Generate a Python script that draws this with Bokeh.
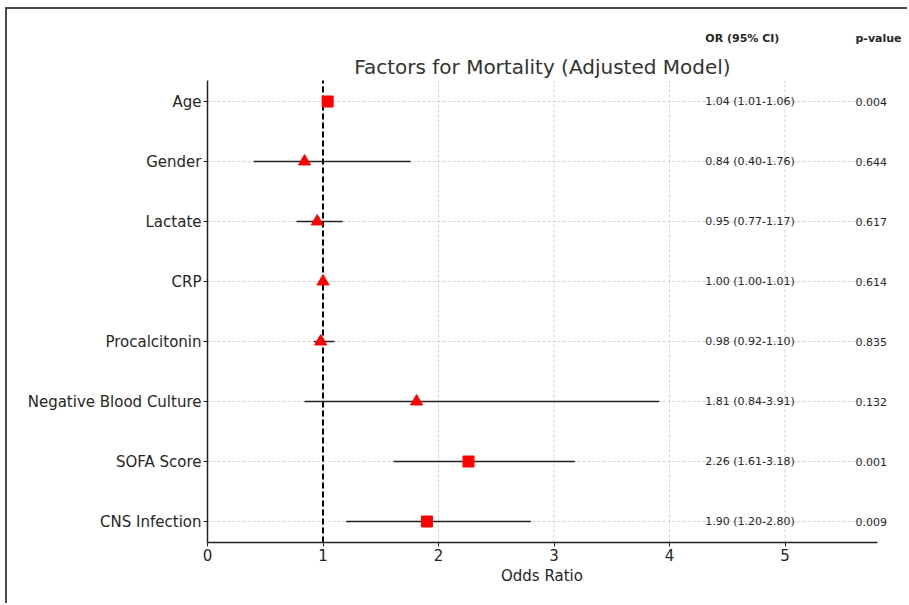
from bokeh.plotting import figure
from bokeh.layouts import column
from bokeh.models import ColumnDataSource, FixedTicker, Title
from bokeh.core.properties import value
from bokeh.embed import file_html
from bokeh.resources import INLINE

# ---- data ----
factors = ["Age", "Gender", "Lactate", "CRP", "Procalcitonin",
           "Negative Blood Culture", "SOFA Score", "CNS Infection"]
odds = [1.04, 0.84, 0.95, 1.00, 0.98, 1.81, 2.26, 1.90]
ci_low = [1.01, 0.40, 0.77, 1.00, 0.92, 0.84, 1.61, 1.20]
ci_high = [1.06, 1.76, 1.17, 1.01, 1.10, 3.91, 3.18, 2.80]
p_values = ["0.004", "0.644", "0.617", "0.614", "0.835", "0.132", "0.001", "0.009"]
or_labels = ["1.04 (1.01-1.06)", "0.84 (0.40-1.76)", "0.95 (0.77-1.17)",
             "1.00 (1.00-1.01)", "0.98 (0.92-1.10)", "1.81 (0.84-3.91)",
             "2.26 (1.61-3.18)", "1.90 (1.20-2.80)"]
x_ticks = [0, 1, 2, 3, 4, 5]
title = "Factors for Mortality (Adjusted Model)"
headers = ["OR (95% CI)", "p-value"]
x_label = "Odds Ratio"

n = len(factors)
ypos = [n - 1 - i for i in range(n)]
sig = [float(pv) < 0.05 for pv in p_values]

FONT = "DejaVu Sans"
TXT = "#262626"
XMAX = 5.8
YLO, YHI = -0.35, n - 1 + 0.35
XCOL_OR, XCOL_P = 4.31, 5.61

W, H = 900, 594
ML, MR, MT, MB = 200, 3, 11, 61
PXU = 115.5
xend = (W - ML - MR) / PXU

p = figure(width=W, height=H, x_range=(0, xend), y_range=(YLO, YHI + (H - MT - MB) / 60.0 - (YHI - YLO)),
           output_backend="svg", toolbar_location=None,
           min_border_left=ML, min_border_right=MR, min_border_top=MT, min_border_bottom=MB)
p.outline_line_color = None
p.background_fill_color = "white"
p.border_fill_color = "white"
p.xgrid.visible = False
p.ygrid.visible = False

# axes
p.xaxis.ticker = FixedTicker(ticks=x_ticks)
p.yaxis.ticker = FixedTicker(ticks=ypos)
p.yaxis.major_label_overrides = {y: f for y, f in zip(ypos, factors)}
p.xaxis.bounds = (0, XMAX)
p.yaxis.bounds = (YLO, YHI)
for ax in (p.xaxis[0], p.yaxis[0]):
    ax.axis_line_width = 1.5
    ax.axis_line_color = "#222222"
    ax.major_tick_line_color = "#222222"
    ax.major_tick_out = 4
    ax.major_tick_in = 0
    ax.minor_tick_line_color = None
    ax.major_label_text_font = FONT
    ax.major_label_text_font_size = "15px"
    ax.major_label_text_color = TXT
    ax.major_label_standoff = 2

# x-axis label, centred under the axis extent (0..XMAX) rather than the frame
xl = Title(text=x_label, align="left", offset=XMAX / 2 * PXU - 41.5,
           text_font=FONT, text_font_size="15px", text_font_style="normal",
           text_color=TXT, standoff=3)
p.add_layout(xl, "below")

# grid (drawn as dashed segments limited to the plotting area)
gx = [t for t in x_ticks if t > 0]
p.segment(x0=gx, x1=gx, y0=[YLO] * len(gx), y1=[YHI] * len(gx),
          line_color="#c8c8c8", line_dash="3 2", line_width=0.8)
p.segment(x0=[0] * n, x1=[XMAX] * n, y0=ypos, y1=ypos,
          line_color="#c8c8c8", line_dash="3 2", line_width=0.8)

# reference line at OR = 1
p.segment(x0=[1], x1=[1], y0=[YLO], y1=[YHI], line_color="black",
          line_width=2, line_dash="6 3")

# CI lines
src = ColumnDataSource(dict(y=ypos, odds=odds, lo=ci_low, hi=ci_high,
                            orl=or_labels, pv=p_values,
                            xo=[XCOL_OR] * n, xp=[XCOL_P] * n))
p.segment(x0="lo", x1="hi", y0="y", y1="y", source=src, line_color="#222222", line_width=1.5)

sq = [i for i in range(n) if sig[i]]
tr = [i for i in range(n) if not sig[i]]
p.scatter(x=[odds[i] for i in sq], y=[ypos[i] for i in sq], marker="square",
          size=11, fill_color="red", line_color="red")
p.scatter(x=[odds[i] for i in tr], y=[ypos[i] for i in tr], marker="triangle",
          size=12, fill_color="red", line_color="red")

# value columns
p.text(x="xo", y="y", text="orl", source=src, text_font=value(FONT),
       text_font_size="11px", text_color=TXT, text_baseline="middle")
p.text(x="xp", y="y", text="pv", source=src, text_font=value(FONT),
       text_font_size="11px", text_color=TXT, text_baseline="middle")

# headers
p.text(x=[XCOL_OR, XCOL_P], y=[YHI + 0.7] * 2, text=headers, text_font=value(FONT),
       text_font_size="11px", text_font_style="bold", text_color=TXT,
       text_baseline="middle")

# title
p.text(x=[XMAX / 2], y=[YHI + 0.23], text=[title], text_font=value(FONT),
       text_font_size="20px", text_color="#333333",
       text_align="center", text_baseline="middle")

layout = column(p, styles={"border-left": "2px solid #4a4a4a",
                           "border-top": "2px solid #4a4a4a",
                           "margin-left": "5px", "margin-top": "7px"})

open("out.html", "w").write(file_html(layout, INLINE))
